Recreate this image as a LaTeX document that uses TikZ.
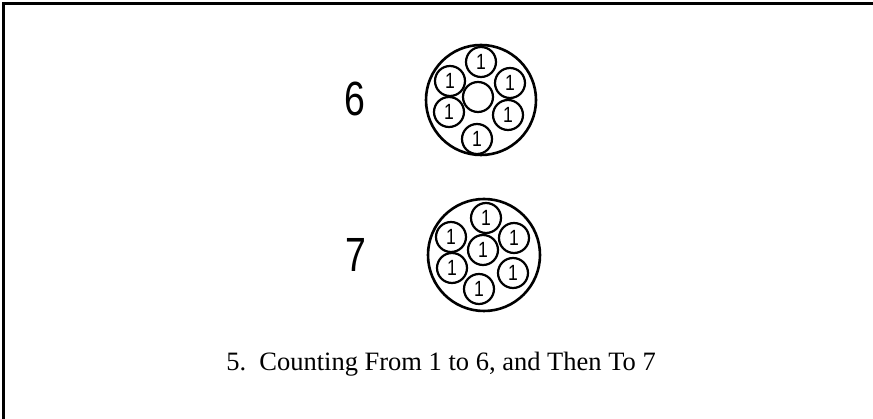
\documentclass[tikz,border=0pt]{standalone}
\usepackage{graphicx}
\usepackage{fontspec}
\setmainfont{Liberation Serif}
\newfontfamily\arialf{Liberation Sans}
\newcommand{\narrowone}{\scalebox{0.8}[1]{1}}
\begin{document}
\begin{tikzpicture}[x=1pt,y=-1pt,
  outer/.style={circle,draw,line width=2.6pt,minimum size=110pt,inner sep=0pt},
  cell/.style={circle,draw,line width=2.2pt,minimum size=30pt,inner sep=0pt,font=\arialf\fontsize{22}{22}\selectfont},
  numlab/.style={font=\arialf\fontsize{48}{48}\selectfont,xscale=0.78,inner sep=0pt},
  caption/.style={font=\fontsize{26.5}{30}\selectfont,inner sep=0pt}]
\useasboundingbox (0,0) rectangle (873,419);
\draw[line width=3pt] (3.5,419) -- (3.5,3.5) -- (873,3.5);
% six
\node[numlab] (six) at (355,99) {6};
\node[outer] (o6) at (481,100) {};
\node[cell] (c6m) at (478,97) {};
\node[cell] (c6t) at (481,62) {\narrowone};
\node[cell] (c6ul) at (450,81) {\narrowone};
\node[cell] (c6ur) at (510,83) {\narrowone};
\node[cell] (c6ll) at (449,112) {\narrowone};
\node[cell] (c6lr) at (508,115) {\narrowone};
\node[cell] (c6b) at (477,139) {\narrowone};
% seven
\node[numlab] (seven) at (356,255) {7};
\node[outer,minimum size=112pt] (o7) at (484,255) {};
\node[cell] (c7t) at (486,218) {\narrowone};
\node[cell] (c7m) at (483,250) {\narrowone};
\node[cell] (c7ul) at (451,237) {\narrowone};
\node[cell] (c7ur) at (514,238) {\narrowone};
\node[cell] (c7ll) at (452,268) {\narrowone};
\node[cell] (c7lr) at (513,273) {\narrowone};
\node[cell] (c7b) at (479,289) {\narrowone};
\node[caption] (cap) at (441,364) {5.\ \ Counting From 1 to 6, and Then To 7};
\end{tikzpicture}
\end{document}
